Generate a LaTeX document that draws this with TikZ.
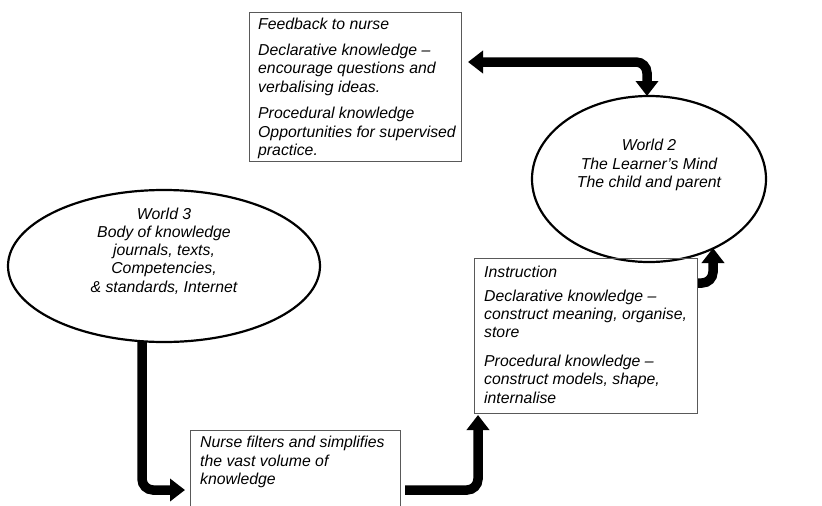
\documentclass[tikz,border=0pt]{standalone}
\usepackage{fontspec}
\setmainfont{Liberation Sans}
\usetikzlibrary{arrows.meta,shapes.geometric}
\begin{document}
\begin{tikzpicture}[x=1pt,y=-1pt,
  txt/.style={font=\fontsize{15.8}{18.4}\selectfont\itshape, align=left, anchor=north west, inner sep=0pt},
  ctxt/.style={font=\fontsize{15.8}{18.2}\selectfont\itshape, align=center, inner sep=0pt},
  box/.style={draw=black!65, line width=0.8pt, inner sep=0pt, anchor=north west},
  world/.style={draw, ellipse, line width=2.2pt, inner sep=0pt},
  flow/.style={line width=9.5pt, rounded corners=11pt, -{Triangle[width=22pt,length=15pt]}},
  flowtwo/.style={line width=9.5pt, rounded corners=11pt, {Triangle[width=22pt,length=15pt]}-{Triangle[width=22pt,length=15pt]}},
]
\useasboundingbox (0,0) rectangle (822,506);

% World ellipses
\node[world, minimum width=234pt, minimum height=166pt] (w2) at (649,179) {};
\node[ctxt] (w2t) at (649,165) {World 2\\The Learner’s Mind\\The child and parent};

\node[world, minimum width=312pt, minimum height=152pt] (w3) at (164,266) {};
\node[ctxt] (w3t) at (164,251) {World 3\\Body of knowledge\\journals, texts,\\Competencies,\\\& standards, Internet};

% Boxes
\node[box, minimum width=212pt, minimum height=149pt] (fb) at (249,12) {};
\node[txt] (fbt) at (258,17.5) {Feedback to nurse\\[8pt]Declarative knowledge –\\encourage questions and\\verbalising ideas.\\[8pt]Procedural knowledge\\Opportunities for supervised\\practice.};

\node[box, minimum width=223pt, minimum height=155pt] (ib) at (474,258) {};
\node[txt] (ibt) at (484,266) {Instruction\\[5pt]Declarative knowledge –\\construct meaning, organise,\\store\\[10pt]Procedural knowledge –\\construct models, shape,\\internalise};

\node[box, minimum width=210pt, minimum height=100pt] (nb) at (190,430) {};
\node[txt] (nbt) at (200,436) {Nurse filters and simplifies\\the vast volume of\\knowledge};

% Connectors
\coordinate (a1) at (468,62);
\coordinate (a2) at (647,96);
\draw[flowtwo] (a1) -| (a2);

\coordinate (b1) at (142,341);
\coordinate (b2) at (185,490);
\draw[flow] (b1) |- (b2);

\coordinate (c1) at (405,490);
\coordinate (c2) at (478,415);
\draw[flow] (c1) -| (c2);

\coordinate (d1) at (698,283);
\coordinate (d2) at (713,248);
\draw[flow] (d1) -| (d2);
\end{tikzpicture}
\end{document}
